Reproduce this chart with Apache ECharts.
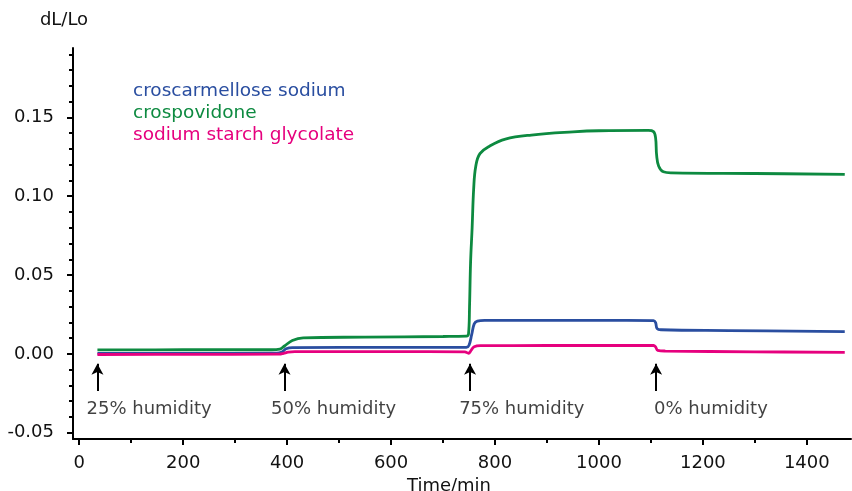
<!DOCTYPE html>
<html lang="en">
  <head>
    <meta charset="UTF-8" />
    <title>dL/Lo vs time</title>
    <style>
      body {
        margin: 0;
        overflow: hidden;
        background: #fff;
      }
    </style>
    <script src="https://cdn.jsdelivr.net/npm/echarts@6/dist/echarts.min.js"></script>
  </head>

  <body>
    <div id="chart" style="width: 852px; height: 491px"></div>
    <script>
      // data: [time/min, dL/Lo]
      var croscarmellose = [
        [35, 0.0003], [200, 0.0003], [380, 0.0004], [390, 0.0012], [398, 0.0032],
        [410, 0.004], [600, 0.0041], [745, 0.0042], [750, 0.0055], [755, 0.012],
        [760, 0.019], [766, 0.0208], [780, 0.0212], [1000, 0.0212], [1105, 0.0211],
        [1109, 0.0198], [1112, 0.016], [1120, 0.0153], [1250, 0.0148], [1473, 0.0141]
      ];
      var crospovidone = [
        [35, 0.0025], [200, 0.0026], [370, 0.0026], [386, 0.003], [395, 0.005],
        [410, 0.0085], [431, 0.0102], [550, 0.0106], [700, 0.011], [745, 0.0113],
        [749, 0.0125], [751, 0.03], [753, 0.058], [756, 0.08], [759, 0.105],
        [763, 0.119], [771, 0.127], [790, 0.1318], [820, 0.1362], [870, 0.1388],
        [950, 0.1408], [1000, 0.1415], [1095, 0.1417], [1105, 0.141], [1109, 0.137],
        [1111, 0.126], [1115, 0.119], [1124, 0.1155], [1140, 0.1148], [1300, 0.1144],
        [1473, 0.1139]
      ];
      var starchGlycolate = [
        [35, -0.0004], [200, -0.0003], [385, -0.0002], [393, 0.0003], [402, 0.0011],
        [415, 0.0014], [600, 0.0014], [742, 0.0012], [749, 0.0004], [754, 0.0022],
        [760, 0.0045], [772, 0.0052], [900, 0.0053], [1105, 0.0053], [1109, 0.0044],
        [1113, 0.0022], [1128, 0.0018], [1300, 0.0013], [1473, 0.001]
      ];

      var seriesNames = ["croscarmellose sodium", "crospovidone", "sodium starch glycolate"];
      var seriesColors = ["#2a4ea0", "#0d8a40", "#e6007e"];

      var xMajor = [0, 200, 400, 600, 800, 1000, 1200, 1400];
      var xMinor = [100, 300, 500, 700, 900, 1100, 1300];
      var yMajor = [-0.05, 0, 0.05, 0.1, 0.15];
      var yMinor = [-0.04, -0.03, -0.02, -0.01, 0.01, 0.02, 0.03, 0.04, 0.06, 0.07,
        0.08, 0.09, 0.11, 0.12, 0.13, 0.14, 0.16, 0.17, 0.18, 0.19];

      // humidity steps
      var stepTimes = [35, 395, 752, 1110];
      var stepLabels = ["25% humidity", "50% humidity", "75% humidity", "0% humidity"];
      var stepLabelX = [14, 369, 731, 1106];
      var arrowFrom = -0.0235;
      var arrowTo = -0.0062;
      var labelY = -0.035;

      var font = "DejaVu Sans";
      var fs = 18;
      var textColor = "#111";

      var lineData = [croscarmellose, crospovidone, starchGlycolate];
      var series = lineData.map(function (d, i) {
        return {
          name: seriesNames[i],
          type: "line",
          data: d,
          showSymbol: false,
          smooth: 0.4,
          color: seriesColors[i],
          lineStyle: { width: 2.8 },
        };
      });

      series.push({
        name: "arrows",
        type: "line",
        data: [],
        markLine: {
          silent: true,
          symbol: ["none", "arrow"],
          symbolSize: [9, 11],
          lineStyle: { color: "#000", width: 2, type: "solid" },
          label: { show: false },
          data: stepTimes.map(function (t) {
            return [{ coord: [t, arrowFrom] }, { coord: [t, arrowTo] }];
          }),
        },
      });

      series.push({
        name: "steps",
        type: "scatter",
        symbolSize: 0,
        silent: true,
        data: stepLabels.map(function (s, i) {
          return { value: [stepLabelX[i], labelY], name: s };
        }),
        label: {
          show: true,
          position: "right",
          distance: 0,
          formatter: "{b}",
          color: textColor,
          fontFamily: font,
          fontSize: fs,
        },
      });

      var axisLineStyle = { color: "#000", width: 2 };
      var tickStyle = { width: 2, color: "#000" };

      var option = {
        animation: false,
        textStyle: { fontFamily: font },
        grid: {
          left: 73,
          right: 1,
          top: 48,
          bottom: 52,
          containLabel: false,
          outerBoundsMode: "none",
        },
        legend: {
          orient: "vertical",
          left: 123,
          top: 77,
          icon: "rect",
          itemWidth: 0,
          itemHeight: 0,
          itemGap: 3,
          textStyle: { fontFamily: font, fontSize: 18.5 },
          data: seriesNames.map(function (n, i) {
            return { name: n, textStyle: { color: seriesColors[i] } };
          }),
        },
        xAxis: [
          {
            type: "value",
            min: -12,
            max: 1485,
            name: "Time/min",
            nameLocation: "middle",
            nameGap: 34,
            nameTextStyle: { color: textColor, fontSize: fs, padding: [0, 26, 0, 0] },
            axisLine: { onZero: false, lineStyle: axisLineStyle },
            axisTick: { length: 6, lineStyle: tickStyle, customValues: xMajor },
            axisLabel: {
              customValues: xMajor,
              color: textColor,
              fontSize: fs,
              margin: 15,
              formatter: function (v) {
                return String(v);
              },
            },
            splitLine: { show: false },
          },
          {
            type: "value",
            position: "bottom",
            min: -12,
            max: 1485,
            axisLine: { show: false, onZero: false },
            axisTick: { length: 4, lineStyle: tickStyle, customValues: xMinor },
            axisLabel: { show: false },
            splitLine: { show: false },
          },
        ],
        yAxis: [
          {
            type: "value",
            min: -0.054,
            max: 0.194,
            name: "dL/Lo",
            nameLocation: "end",
            nameGap: 19,
            nameTextStyle: { color: textColor, fontSize: fs, padding: [0, 18, 0, 0] },
            axisLine: { show: true, onZero: false, lineStyle: axisLineStyle },
            axisTick: { show: true, length: 6, lineStyle: tickStyle, customValues: yMajor },
            axisLabel: {
              customValues: yMajor,
              color: textColor,
              fontSize: fs,
              margin: 19,
              formatter: function (v) {
                return v.toFixed(2);
              },
            },
            splitLine: { show: false },
          },
          {
            type: "value",
            position: "left",
            min: -0.054,
            max: 0.194,
            axisLine: { show: false, onZero: false },
            axisTick: { show: true, length: 4, lineStyle: tickStyle, customValues: yMinor },
            axisLabel: { show: false },
            splitLine: { show: false },
          },
        ],
        series: series,
      };

      var chartDom = document.getElementById("chart");
      var myChart = echarts.init(chartDom);
      option && myChart.setOption(option);
    </script>
  </body>
</html>
